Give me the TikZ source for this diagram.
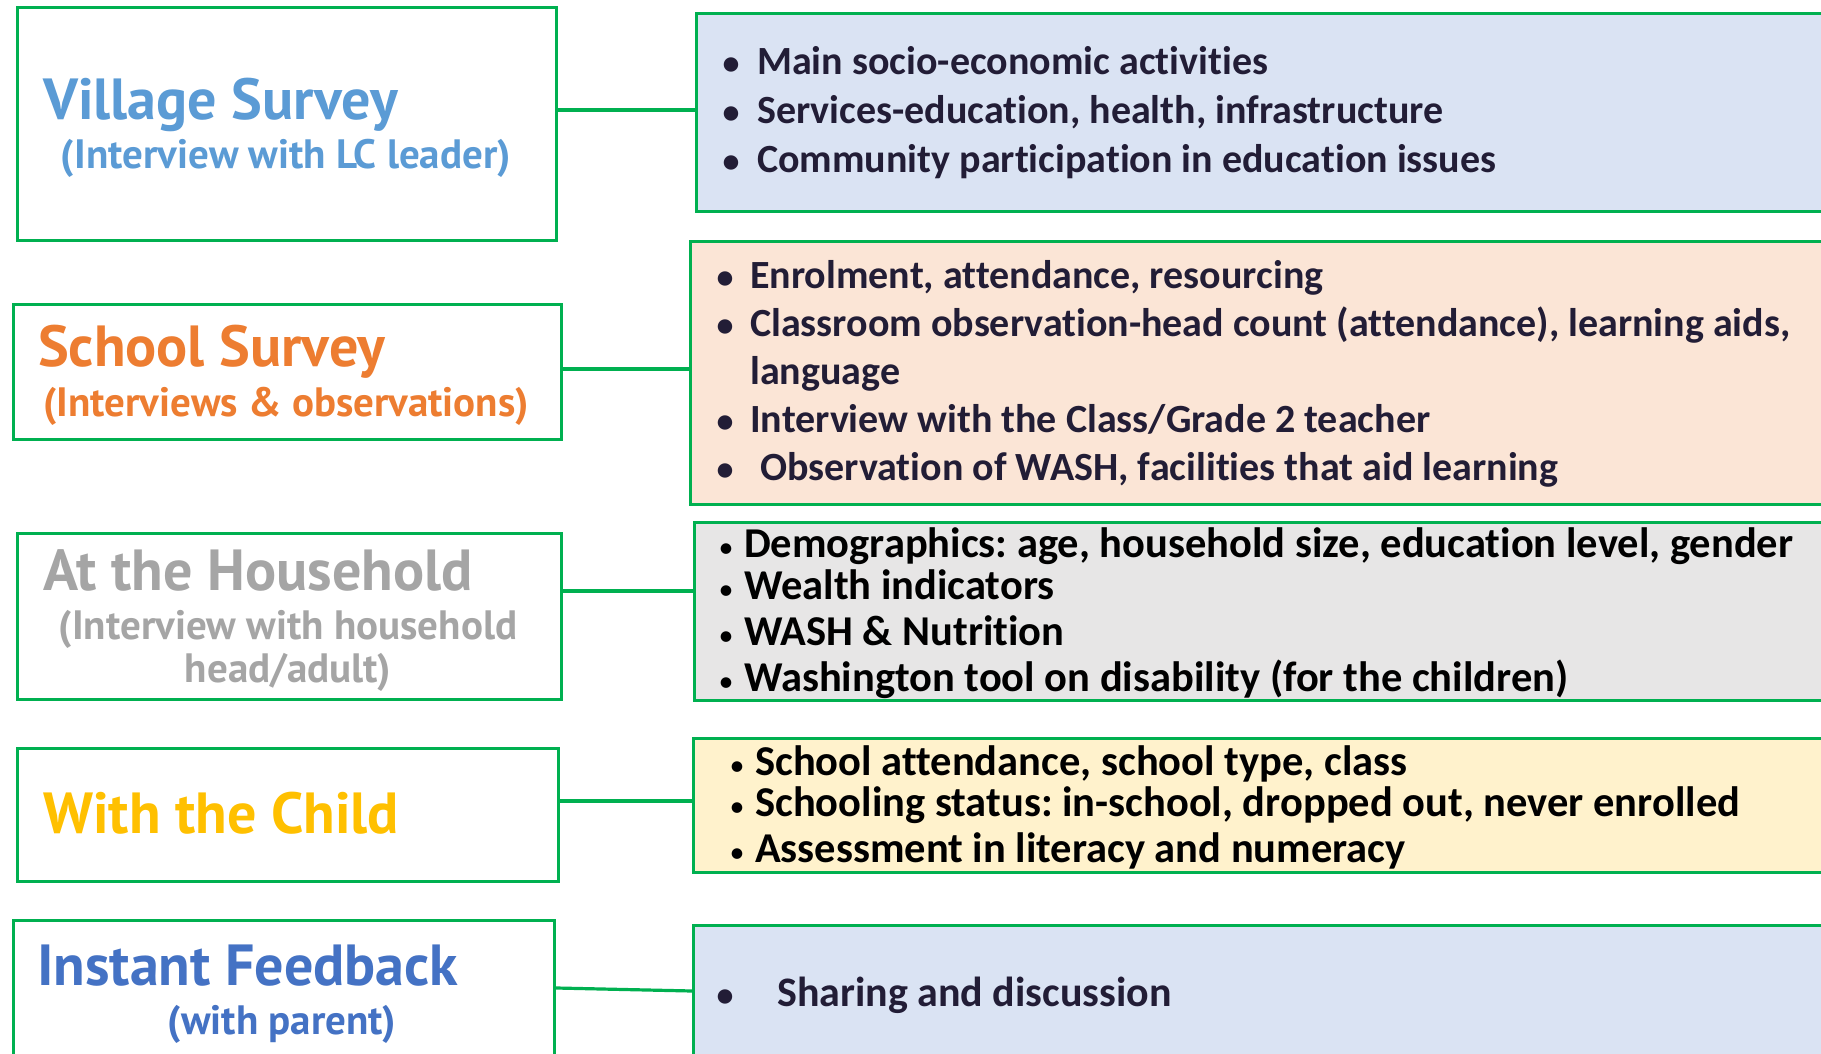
\documentclass[tikz,border=0pt]{standalone}
\usepackage{fontspec}
\setmainfont{Carlito}[Ligatures={NoCommon}]
\newfontfamily\headfont{PT Sans}
\frenchspacing
\definecolor{linegreen}{HTML}{00B050}
\definecolor{fillblue}{HTML}{DAE3F3}
\definecolor{fillpeach}{HTML}{FBE5D6}
\definecolor{fillgray}{HTML}{E7E6E6}
\definecolor{fillyellow}{HTML}{FFF2CC}
\definecolor{hblue}{HTML}{5B9BD5}
\definecolor{horange}{HTML}{ED7D31}
\definecolor{hgray}{HTML}{A5A5A5}
\definecolor{hgold}{HTML}{FFC000}
\definecolor{hdblue}{HTML}{4472C4}
\definecolor{inktext}{HTML}{221D36}
\begin{document}
\begin{tikzpicture}[x=1pt,y=-1pt,
  frame/.style={draw=linegreen, line width=3.2pt, rectangle, inner sep=0pt, anchor=north west},
  link/.style={draw=linegreen, line width=3.2pt},
  head/.style={inner sep=0pt, anchor=base west, font=\headfont\bfseries\fontsize{58}{62}\selectfont},
  sub/.style={inner sep=0pt, anchor=base, font=\headfont\bfseries\fontsize{41}{46}\selectfont},
  item/.style={inner sep=0pt, anchor=base west, font=\bfseries\fontsize{40}{44}\selectfont, text=inktext},
  wideitem/.style={item, font=\bfseries\fontsize{42.5}{46}\selectfont, text=black},
  dot/.style={inner sep=0pt, anchor=base, font=\bfseries\fontsize{34}{38}\selectfont, text=inktext},
  smalldot/.style={inner sep=0pt, anchor=base, font=\fontsize{30}{34}\selectfont, text=black},
]
\useasboundingbox (0,0) rectangle (1821,1054);
\fill[white] (0,0) rectangle (1821,1054);
\clip (0,0) rectangle (1821,1054);

% left-hand category boxes
\node[frame, minimum width=539pt, minimum height=233pt] (vbox) at (16,6) {};
\node[frame, minimum width=548pt, minimum height=135pt] (sbox) at (12,303) {};
\node[frame, minimum width=544pt, minimum height=166pt] (hbox) at (16,532) {};
\node[frame, minimum width=541pt, minimum height=133pt] (cbox) at (16,747) {};
\node[frame, minimum width=541pt, minimum height=160pt] (fbox) at (12,919) {};

% right-hand detail panels (running off the right edge)
\node[frame, fill=fillblue,   minimum width=1150pt, minimum height=198pt] (vdet) at (695,12) {};
\node[frame, fill=fillpeach,  minimum width=1150pt, minimum height=263pt] (sdet) at (689,240) {};
\node[frame, fill=fillgray,   minimum width=1150pt, minimum height=178pt] (hdet) at (693,521) {};
\node[frame, fill=fillyellow, minimum width=1150pt, minimum height=134pt] (cdet) at (692,737) {};
\node[frame, fill=fillblue,   minimum width=1150pt, minimum height=160pt] (fdet) at (692,924) {};

% connectors
\draw[link] (vbox.east |- 0,110) -- (vdet.west |- 0,110);
\draw[link] (sbox.east |- 0,369) -- (sdet.west |- 0,369);
\draw[link] (hbox.east |- 0,591) -- (hdet.west |- 0,591);
\draw[link] (cbox.east |- 0,801) -- (cdet.west |- 0,801);
\draw[link] (fbox.east |- 0,988) -- (fdet.west |- 0,991);

% category titles
\node[head, text=hblue] (vt) at (43,120) {Village Survey};
\node[sub, text=hblue] (vs) at (286,168) {(Interview with LC leader)};
\node[head, text=horange] (st) at (38,366) {School Survey};
\node[sub, text=horange] (ss) at (286,416) {(Interviews \& observations)};
\node[head, text=hgray] (ht) at (43,590) {At the Household};
\node[sub, text=hgray] (hs1) at (288,639) {(Interview with household};
\node[sub, text=hgray] (hs2) at (288,682) {head/adult)};
\node[head, text=hgold] (ct) at (43,833) {With the Child};
\node[head, text=hdblue] (ft) at (37,985) {Instant Feedback};
\node[sub, text=hdblue] (fs) at (282,1034) {(with parent)};

% village details
\node[dot] (vb1) at (731,75) {•};
\node[item] (vi1) at (757,75) {Main socio-economic activities};
\node[dot] (vb2) at (731,124) {•};
\node[item] (vi2) at (757,124) {Services-education, health, infrastructure};
\node[dot] (vb3) at (731,172) {•};
\node[item] (vi3) at (757,172) {Community participation in education issues};

% school details
\node[dot] (sb1) at (725,288) {•};
\node[item] (si1) at (750,288) {Enrolment, attendance, resourcing};
\node[dot] (sb2) at (725,336) {•};
\node[item] (si2) at (750,336) {Classroom observation-head count (attendance), learning aids,};
\node[item] (si2b) at (750,384) {language};
\node[dot] (sb3) at (725,432) {•};
\node[item] (si3) at (750,432) {Interview with the Class/Grade 2 teacher};
\node[dot] (sb4) at (725,480) {•};
\node[item] (si4) at (760,480) {Observation of WASH, facilities that aid learning};

% household details
\node[smalldot] (hb1) at (726,557) {•};
\node[wideitem] (hi1) at (744,557) {Demographics: age, household size, education level, gender};
\node[smalldot] (hb2) at (726,599) {•};
\node[wideitem] (hi2) at (744,599) {Wealth indicators};
\node[smalldot] (hb3) at (726,645) {•};
\node[wideitem] (hi3) at (744,645) {WASH \& Nutrition};
\node[smalldot] (hb4) at (726,691) {•};
\node[wideitem] (hi4) at (744,691) {Washington tool on disability (for the children)};

% child details
\node[smalldot] (cb1) at (737,775) {•};
\node[wideitem] (ci1) at (755,775) {School attendance, school type, class};
\node[smalldot] (cb2) at (737,816) {•};
\node[wideitem] (ci2) at (755,816) {Schooling status: in-school, dropped out, never enrolled};
\node[smalldot] (cb3) at (737,862) {•};
\node[wideitem] (ci3) at (755,862) {Assessment in literacy and numeracy};

% feedback details
\node[dot] (fb1) at (725,1006) {•};
\node[item, font=\bfseries\fontsize{42}{46}\selectfont] (fi1) at (777,1006) {Sharing and discussion};
\end{tikzpicture}
\end{document}
